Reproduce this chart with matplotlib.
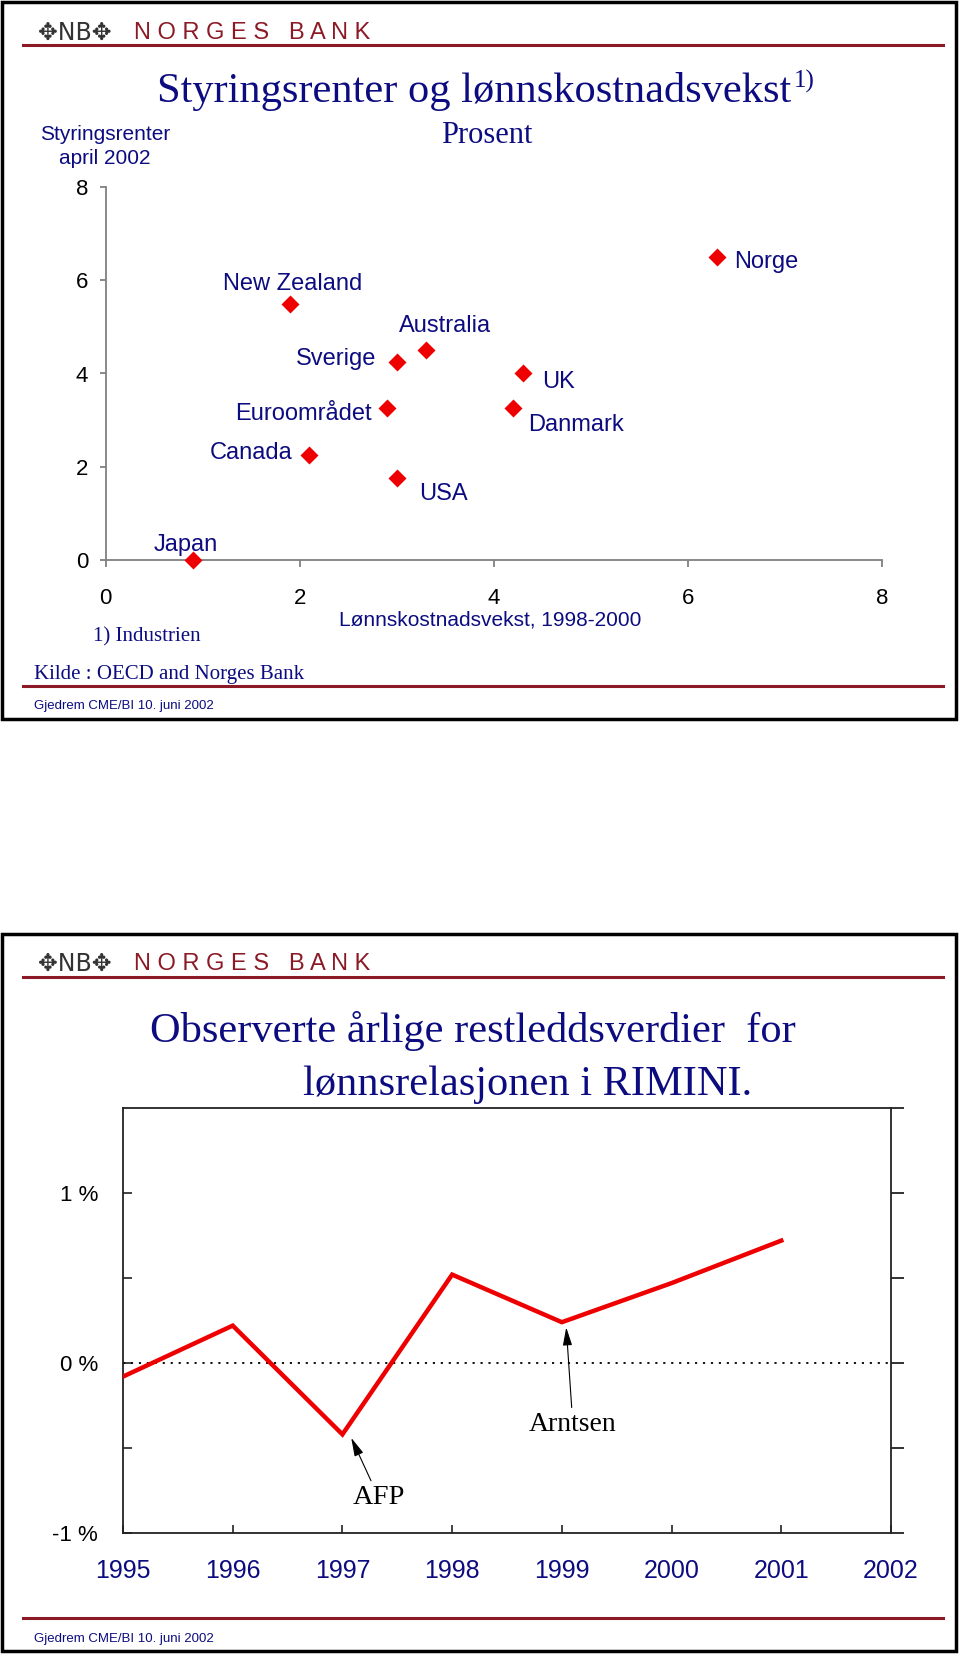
import matplotlib
matplotlib.use("Agg")
import matplotlib.pyplot as plt
from matplotlib.patches import Rectangle
from matplotlib.lines import Line2D

plt.rcParams['font.family'] = ['Liberation Sans', 'DejaVu Sans']

# ---------------- data ----------------
countries = ['Japan', 'Canada', 'New Zealand', 'Euroområdet', 'Sverige',
             'USA', 'Australia', 'Danmark', 'UK', 'Norge']
wage_growth = [0.9, 2.1, 1.9, 2.9, 3.0, 3.0, 3.3, 4.2, 4.3, 6.3]
policy_rate = [0.0, 2.25, 5.5, 3.25, 4.25, 1.75, 4.5, 3.25, 4.0, 6.5]
top_ticks = [0, 2, 4, 6, 8]

years = [1995, 1996, 1997, 1998, 1999, 2000, 2001]
residual = [-0.08, 0.22, -0.42, 0.52, 0.24, 0.47, 0.72]
year_ticks = [1995, 1996, 1997, 1998, 1999, 2000, 2001, 2002]
year_labels = ['1995', '1996', '1997', '1998', '1999', '2000', '2001', '2002']
pct_ticks = [-1, -0.5, 0, 0.5, 1]
pct_labels = ['-1 %', '', '0 %', '', '1 %']

# label placement (offset points, ha)
label_style = {
    'Japan': (-5, 11, 'center'),
    'Canada': (-12, 1.5, 'right'),
    'New Zealand': (2, 14, 'center'),
    'Euroområdet': (-11, -4, 'right'),
    'Sverige': (-15, 2, 'right'),
    'USA': (16, -11.5, 'left'),
    'Australia': (14, 17.5, 'center'),
    'Danmark': (11, -12, 'left'),
    'UK': (14, -6, 'left'),
    'Norge': (12, -4, 'left'),
}

NAVY = '#0c0c80'
DARKRED = '#8b1a26'
RED = '#ee0000'
SERIF = ['Liberation Serif', 'DejaVu Serif']

W, H = 960, 1654
fig = plt.figure(figsize=(W / 100, H / 100), dpi=100)


def fx(x):
    return x / W


def fy(y):
    return 1 - y / H


def hline(y, x0=23, x1=943):
    fig.add_artist(Line2D([fx(x0), fx(x1)], [fy(y), fy(y)], color=DARKRED, lw=2.2))


def border(y0, y1):
    fig.patches.append(Rectangle((fx(2), fy(y1)), fx(956) - fx(2), fy(y0) - fy(y1),
                                 transform=fig.transFigure, fill=False, lw=2.5,
                                 ec='black'))


def header(y):
    fig.text(fx(38), fy(y), '✥NB✥', fontsize=17, color='#333333',
             family=['DejaVu Sans'], ha='left', va='center')
    fig.text(fx(134), fy(y), 'N O R G E S   B A N K', fontsize=17, color=DARKRED,
             ha='left', va='center')


# ================= top slide =================
border(2, 719)
header(33)
hline(45)
hline(686)

t1 = fig.text(fx(157), fy(102), 'Styringsrenter og lønnskostnadsvekst', family=SERIF,
              fontsize=30.5, color=NAVY, ha='left', va='baseline')
fig.text(fx(487), fy(143), 'Prosent', family=SERIF, fontsize=22, color=NAVY,
         ha='center', va='baseline')
fig.text(fx(105), fy(135), 'Styringsrenter', fontsize=15, color=NAVY, ha='center', va='center')
fig.text(fx(105), fy(159), 'april 2002', fontsize=15, color=NAVY, ha='center', va='center')

ax1 = fig.add_axes([fx(105.5), fy(560), fx(882) - fx(105.5), fy(187) - fy(560)])
ax1.plot(wage_growth, policy_rate, 'D', ms=9, color=RED, mec='none', clip_on=False, zorder=3)
for name, xv, yv in zip(countries, wage_growth, policy_rate):
    dx, dy, ha = label_style[name]
    ax1.annotate(name, (xv, yv), xytext=(dx, dy), textcoords='offset points',
                 ha=ha, va='center', fontsize=17, color=NAVY)
ax1.set_xlim(0, 8)
ax1.set_ylim(0, 8)
ax1.set_xticks(top_ticks)
ax1.set_yticks(top_ticks)
ax1.set_xticklabels([str(v) for v in top_ticks])
ax1.set_yticklabels([str(v) for v in top_ticks])
for s in ['top', 'right']:
    ax1.spines[s].set_visible(False)
for s in ['left', 'bottom']:
    ax1.spines[s].set_color('#808080')
    ax1.spines[s].set_linewidth(1.3)
ax1.tick_params(axis='x', direction='out', length=5, width=1.3, color='#808080',
                pad=15, labelsize=16)
ax1.tick_params(axis='y', direction='out', length=4.5, width=1.3, color='#808080',
                pad=8, labelsize=16)
ax1.patch.set_visible(False)

fig.text(fx(490), fy(620), 'Lønnskostnadsvekst, 1998-2000', fontsize=15, color=NAVY,
         ha='center', va='center')
fig.text(fx(93), fy(637), '1) Industrien', family=SERIF, fontsize=15, color=NAVY,
         ha='left', va='center')
fig.text(fx(34), fy(675), 'Kilde : OECD and Norges Bank', family=SERIF, fontsize=15,
         color=NAVY, ha='left', va='center')
fig.text(fx(34), fy(706), 'Gjedrem CME/BI 10. juni 2002', fontsize=9.5, color=NAVY,
         ha='left', va='center')

# ================= bottom slide =================
border(934, 1651)
header(964)
hline(977)
hline(1618)

fig.text(fx(150), fy(1042), 'Observerte årlige restleddsverdier  for', family=SERIF,
         fontsize=30.5, color=NAVY, ha='left', va='baseline')
fig.text(fx(303), fy(1095), 'lønnsrelasjonen i RIMINI.', family=SERIF,
         fontsize=30.5, color=NAVY, ha='left', va='baseline')

ax2 = fig.add_axes([fx(123), fy(1533), fx(891) - fx(123), fy(1108) - fy(1533)])
ax2.plot(years, residual, color=RED, lw=3.2, solid_joinstyle='miter', zorder=3)
ax2.axhline(0, color='black', ls=(0, (1.2, 3.2)), lw=1.3, zorder=2)
ax2.set_xlim(1995, 2002)
ax2.set_ylim(-1, 1.5)
ax2.set_xticks(year_ticks)
ax2.set_xticklabels(year_labels)
ax2.set_yticks(pct_ticks)
ax2.set_yticklabels(pct_labels)
for s in ax2.spines.values():
    s.set_color('#222222')
    s.set_linewidth(1.3)
ax2.tick_params(axis='x', direction='in', length=6, width=1.2, color='#222222',
                pad=19, labelsize=18, labelcolor=NAVY)
ax2.tick_params(axis='y', direction='in', length=6.5, width=1.2, color='#222222',
                pad=18, labelsize=16)

axr = ax2.twinx()
axr.set_ylim(-1, 1.5)
axr.set_yticks([-1, -0.5, 0, 0.5, 1, 1.5])
axr.tick_params(axis='y', direction='out', length=9, width=1.3, color='#222222',
                labelright=False)
for s in axr.spines.values():
    s.set_visible(False)

arrow_kw = dict(arrowstyle='-|>,head_length=0.55,head_width=0.14',
                color='black', lw=0.8, shrinkA=1, shrinkB=0)
ax2.annotate('Arntsen', xy=(years[4] + 0.04, residual[4] - 0.03),
             xytext=(1999.1, -0.36), ha='center', va='center', family=SERIF,
             fontsize=20, color='black', arrowprops=arrow_kw)
ax2.annotate('AFP', xy=(years[2] + 0.08, residual[2] - 0.02),
             xytext=(1997.33, -0.79), ha='center', va='center', family=SERIF,
             fontsize=20.5, color='black', arrowprops=arrow_kw)

fig.text(fx(34), fy(1639), 'Gjedrem CME/BI 10. juni 2002', fontsize=9.5, color=NAVY,
         ha='left', va='center')

# superscript after main title
fig.canvas.draw()
bb = t1.get_window_extent(fig.canvas.get_renderer())
fig.text((bb.x1 + 3) / W, fy(88), '1)', family=SERIF, fontsize=18, color=NAVY,
         ha='left', va='baseline')

fig.savefig('out.png', dpi=100)
